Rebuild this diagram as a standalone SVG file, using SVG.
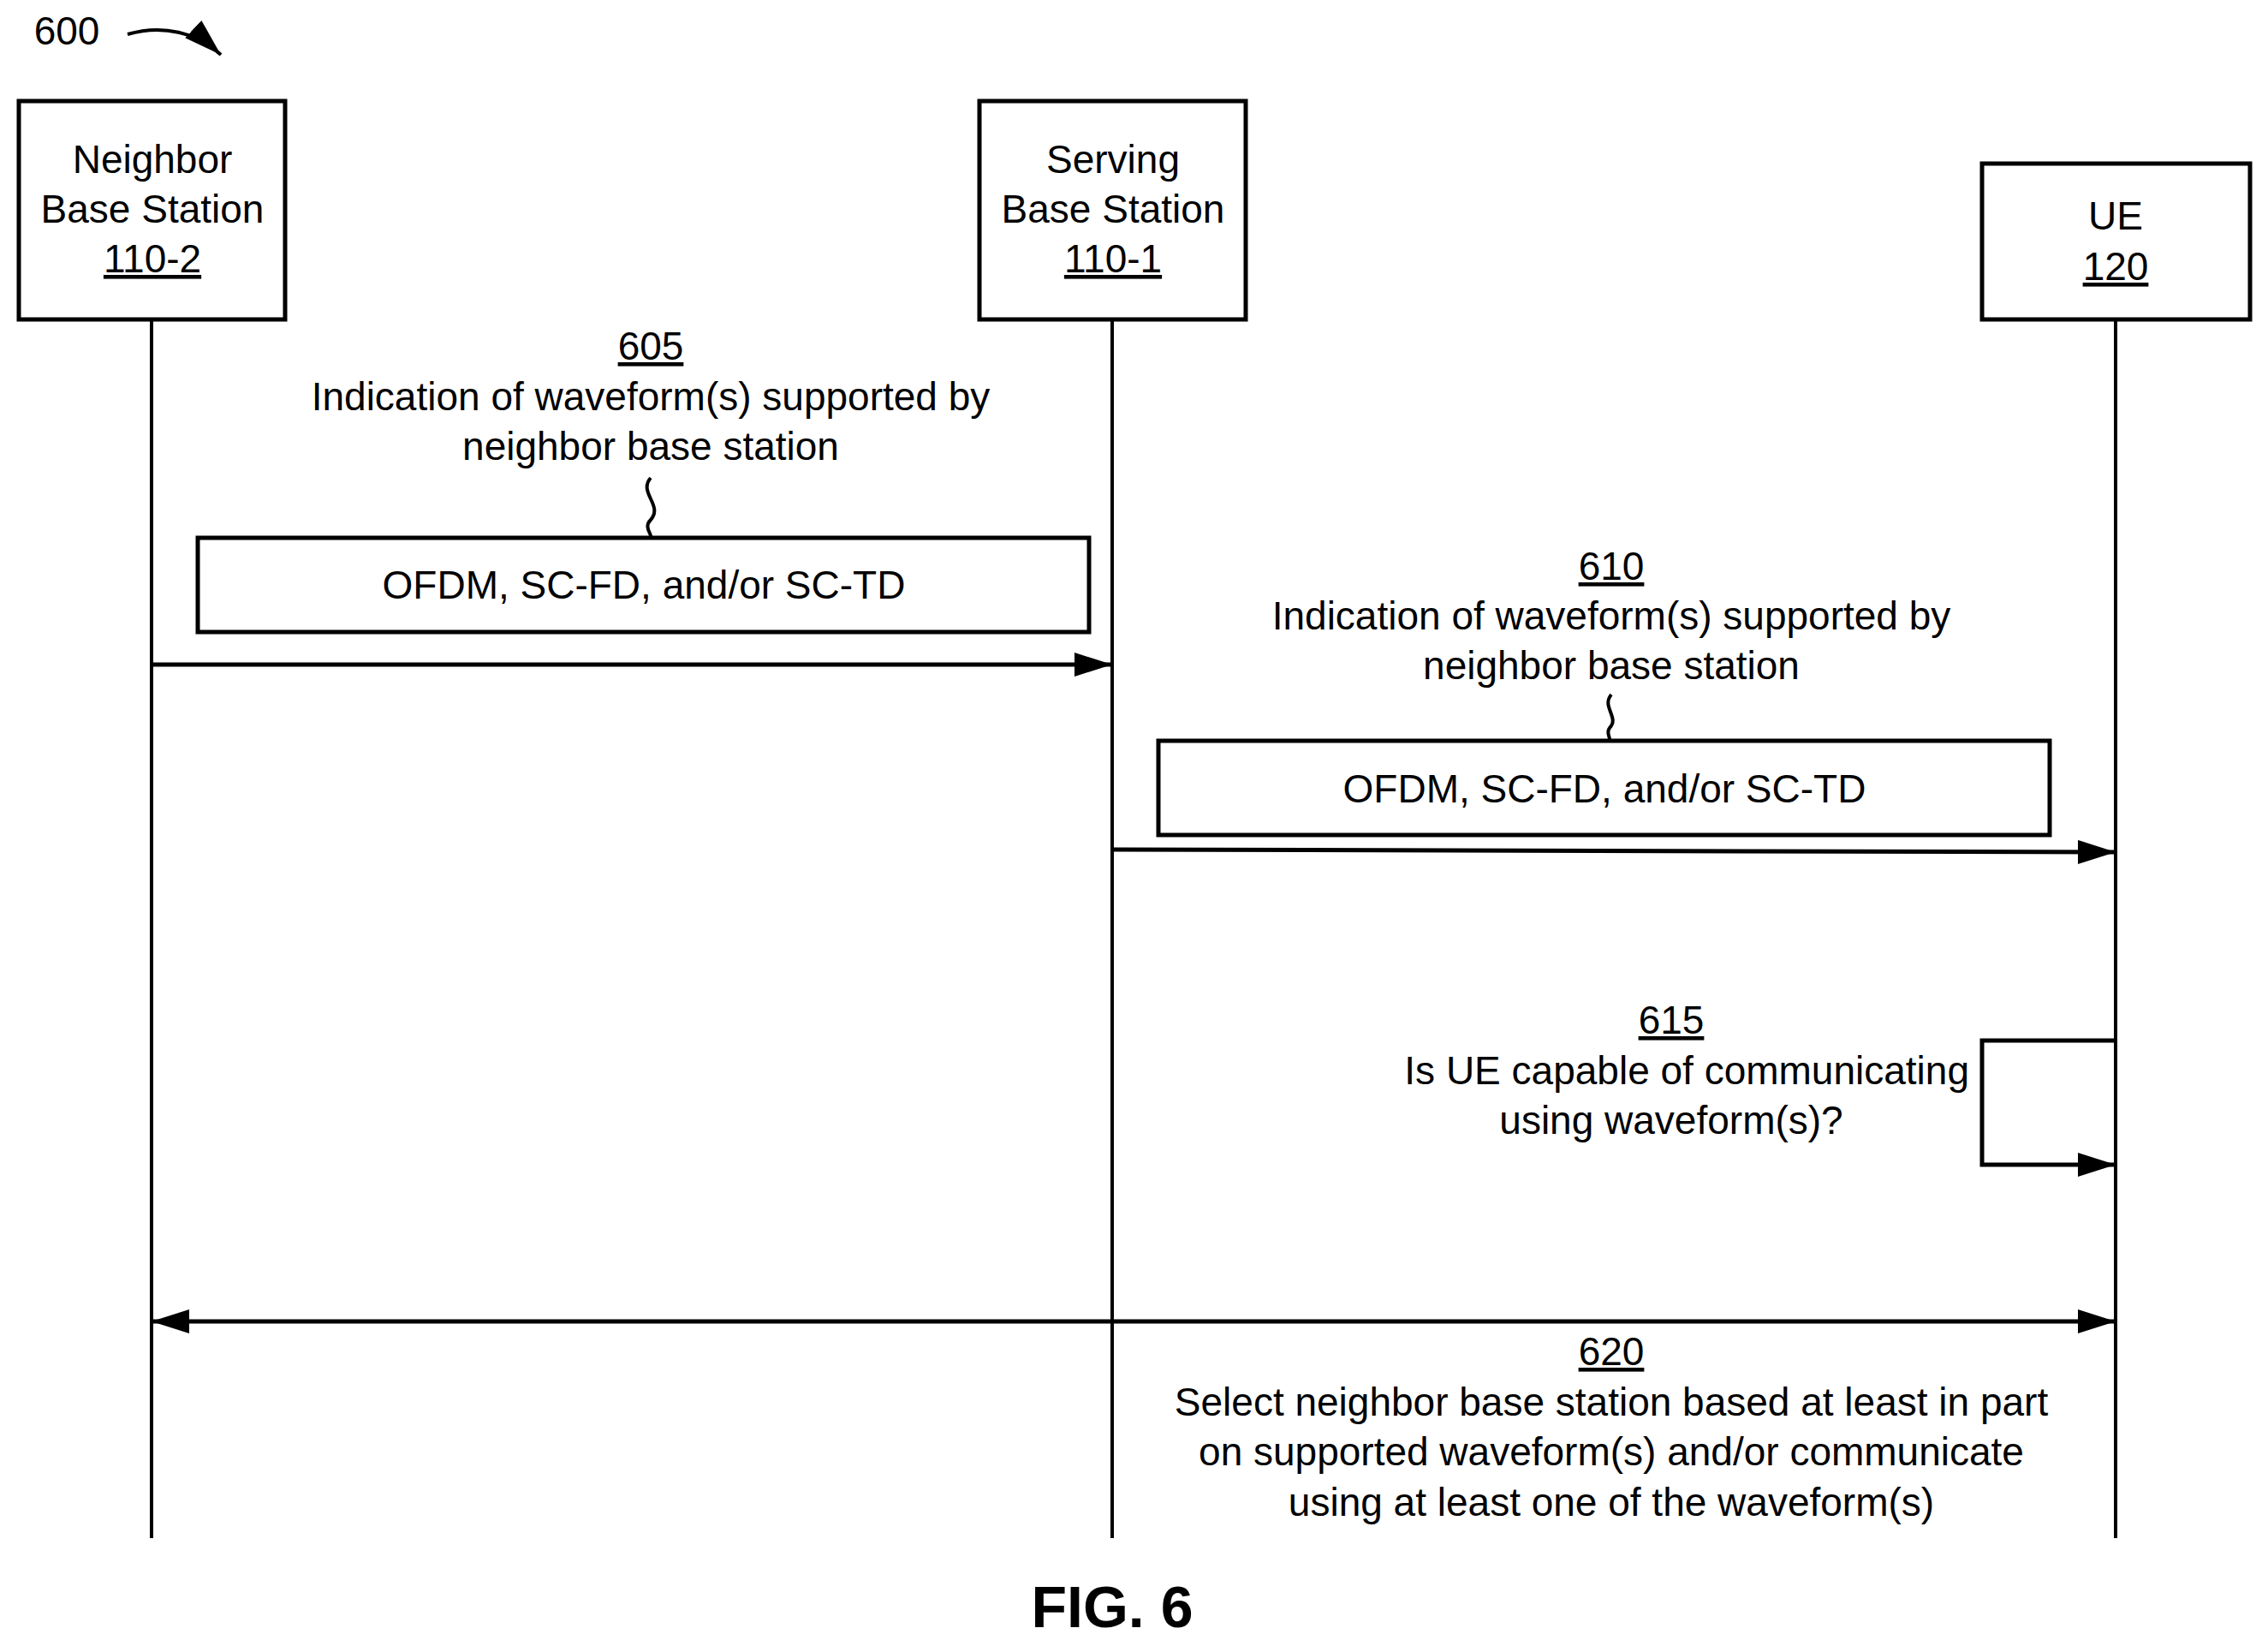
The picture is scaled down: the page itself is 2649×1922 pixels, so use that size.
<svg xmlns="http://www.w3.org/2000/svg" width="2649" height="1922" viewBox="0 0 2649 1922">
<defs>
<marker id="ah" markerWidth="10" markerHeight="8" refX="9.5" refY="4" orient="auto-start-reverse" markerUnits="userSpaceOnUse" viewBox="0 0 10 8" style="overflow:visible">
<path d="M0,0 L10,4 L0,8 Z" fill="#000"/>
</marker>
<marker id="a" viewBox="0 0 44 28" refX="44" refY="14" markerWidth="44" markerHeight="28" orient="auto-start-reverse" markerUnits="userSpaceOnUse">
<path d="M0,0 L44,14 L0,28 Z" fill="#000"/>
</marker>
</defs>
<style>
text{font-family:"Liberation Sans",Arial,sans-serif;font-size:46px;fill:#000;text-anchor:middle}
.u{text-decoration:underline}
.b{fill:#fff;stroke:#000;stroke-width:5}
.l{stroke:#000;stroke-width:4;fill:none}
.w{stroke:#000;stroke-width:5;fill:none}
</style>
<rect width="2649" height="1922" fill="#fff"/>
<text x="78" y="52">600</text>
<path class="l" d="M149,40 C190,28 230,38 258,64" marker-end="url(#a)"/>
<g id="lifelines">
<line class="l" x1="177" y1="373" x2="177" y2="1796"/>
<line class="l" x1="1299" y1="373" x2="1299" y2="1796"/>
<line class="l" x1="2471" y1="373" x2="2471" y2="1796"/>
</g>
<g id="neighbor"><rect class="b" x="22" y="118" width="311" height="255"/>
<text x="178" y="202">Neighbor</text><text x="178" y="260">Base Station</text><text x="178" y="318" class="u">110-2</text></g>
<g id="serving"><rect class="b" x="1144" y="118" width="311" height="255"/>
<text x="1300" y="202">Serving</text><text x="1300" y="260">Base Station</text><text x="1300" y="318" class="u">110-1</text></g>
<g id="ue"><rect class="b" x="2315" y="191" width="313" height="182"/>
<text x="2471" y="268">UE</text><text x="2471" y="327" class="u">120</text></g>
<g id="m605">
<text x="760" y="420" class="u">605</text>
<text x="760" y="479">Indication of waveform(s) supported by</text>
<text x="760" y="537">neighbor base station</text>
<path class="l" d="M760,558 C745,575 775,590 760,607 C752,615 760,622 760,626"/>
<rect class="b" x="231" y="628" width="1041" height="110"/>
<text x="752" y="699">OFDM, SC-FD, and/or SC-TD</text>
</g>
<g id="m610">
<text x="1882" y="677" class="u">610</text>
<text x="1882" y="735">Indication of waveform(s) supported by</text>
<text x="1882" y="793">neighbor base station</text>
<path class="l" d="M1882,811 C1870,825 1892,838 1880,850 C1876,855 1880,860 1880,863"/>
<rect class="b" x="1353" y="865" width="1041" height="110"/>
<text x="1874" y="937">OFDM, SC-FD, and/or SC-TD</text>
</g>
<g id="m615">
<text x="1952" y="1207" class="u">615</text>
<text x="2300" y="1266" style="text-anchor:end">Is UE capable of communicating</text>
<text x="1952" y="1324">using waveform(s)?</text>
</g>
<g id="m620">
<text x="1882" y="1594" class="u">620</text>
<text x="1882" y="1653">Select neighbor base station based at least in part</text>
<text x="1882" y="1711">on supported waveform(s) and/or communicate</text>
<text x="1882" y="1770">using at least one of the waveform(s)</text>
</g>
<g id="connectors">
<line class="w" x1="177" y1="776" x2="1299" y2="776" marker-end="url(#a)"/>
<line class="w" x1="1299" y1="992" x2="2471" y2="995" marker-end="url(#a)"/>
<path class="w" d="M2471,1215 L2315,1215 L2315,1360 L2471,1360" marker-end="url(#a)"/>
<line class="w" x1="177" y1="1543" x2="2471" y2="1543" marker-start="url(#a)" marker-end="url(#a)"/>
</g>
<text x="1299" y="1900" style="font-weight:bold;font-size:68px">FIG. 6</text>
</svg>
